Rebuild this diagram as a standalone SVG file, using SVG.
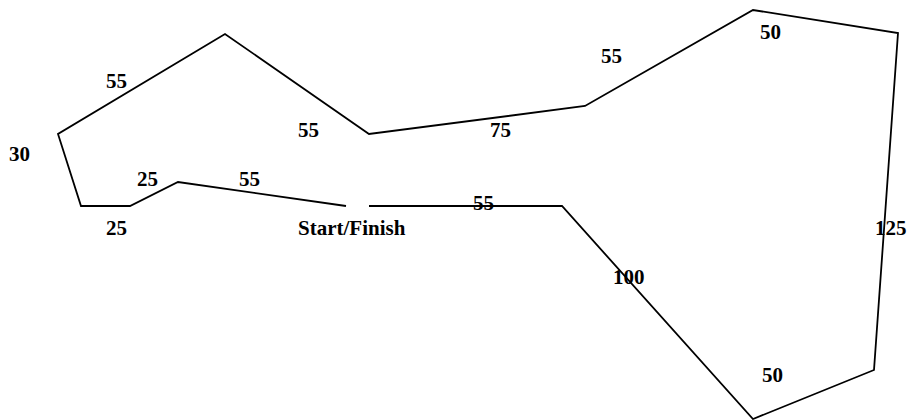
<svg xmlns="http://www.w3.org/2000/svg" width="907" height="420" viewBox="0 0 907 420">
<style>
.track{fill:none;stroke:#000;stroke-width:1.8;stroke-linejoin:miter}
.lbl{font-family:"Liberation Serif","Times New Roman",serif;font-weight:bold;font-size:21px;fill:#000}
</style>
<rect width="907" height="420" fill="#fff"/>
<g id="track">
<polyline class="track" points="369,206 562,206 753,419 874,370 898,33 753,10 585,106 369,134 225,34 58,134 81,206 130,206 178,182 346,206"/>
</g>
<g id="labels">
<text class="lbl" x="106" y="88">55</text>
<text class="lbl" x="298" y="137">55</text>
<text class="lbl" x="9" y="161">30</text>
<text class="lbl" x="137" y="186">25</text>
<text class="lbl" x="239" y="186">55</text>
<text class="lbl" x="106" y="235">25</text>
<text class="lbl" x="298" y="235">Start/Finish</text>
<text class="lbl" x="760" y="39">50</text>
<text class="lbl" x="601" y="63">55</text>
<text class="lbl" x="490" y="137">75</text>
<text class="lbl" x="473" y="210">55</text>
<text class="lbl" x="875" y="235">125</text>
<text class="lbl" x="613" y="284">100</text>
<text class="lbl" x="762" y="382">50</text>
</g>
</svg>
